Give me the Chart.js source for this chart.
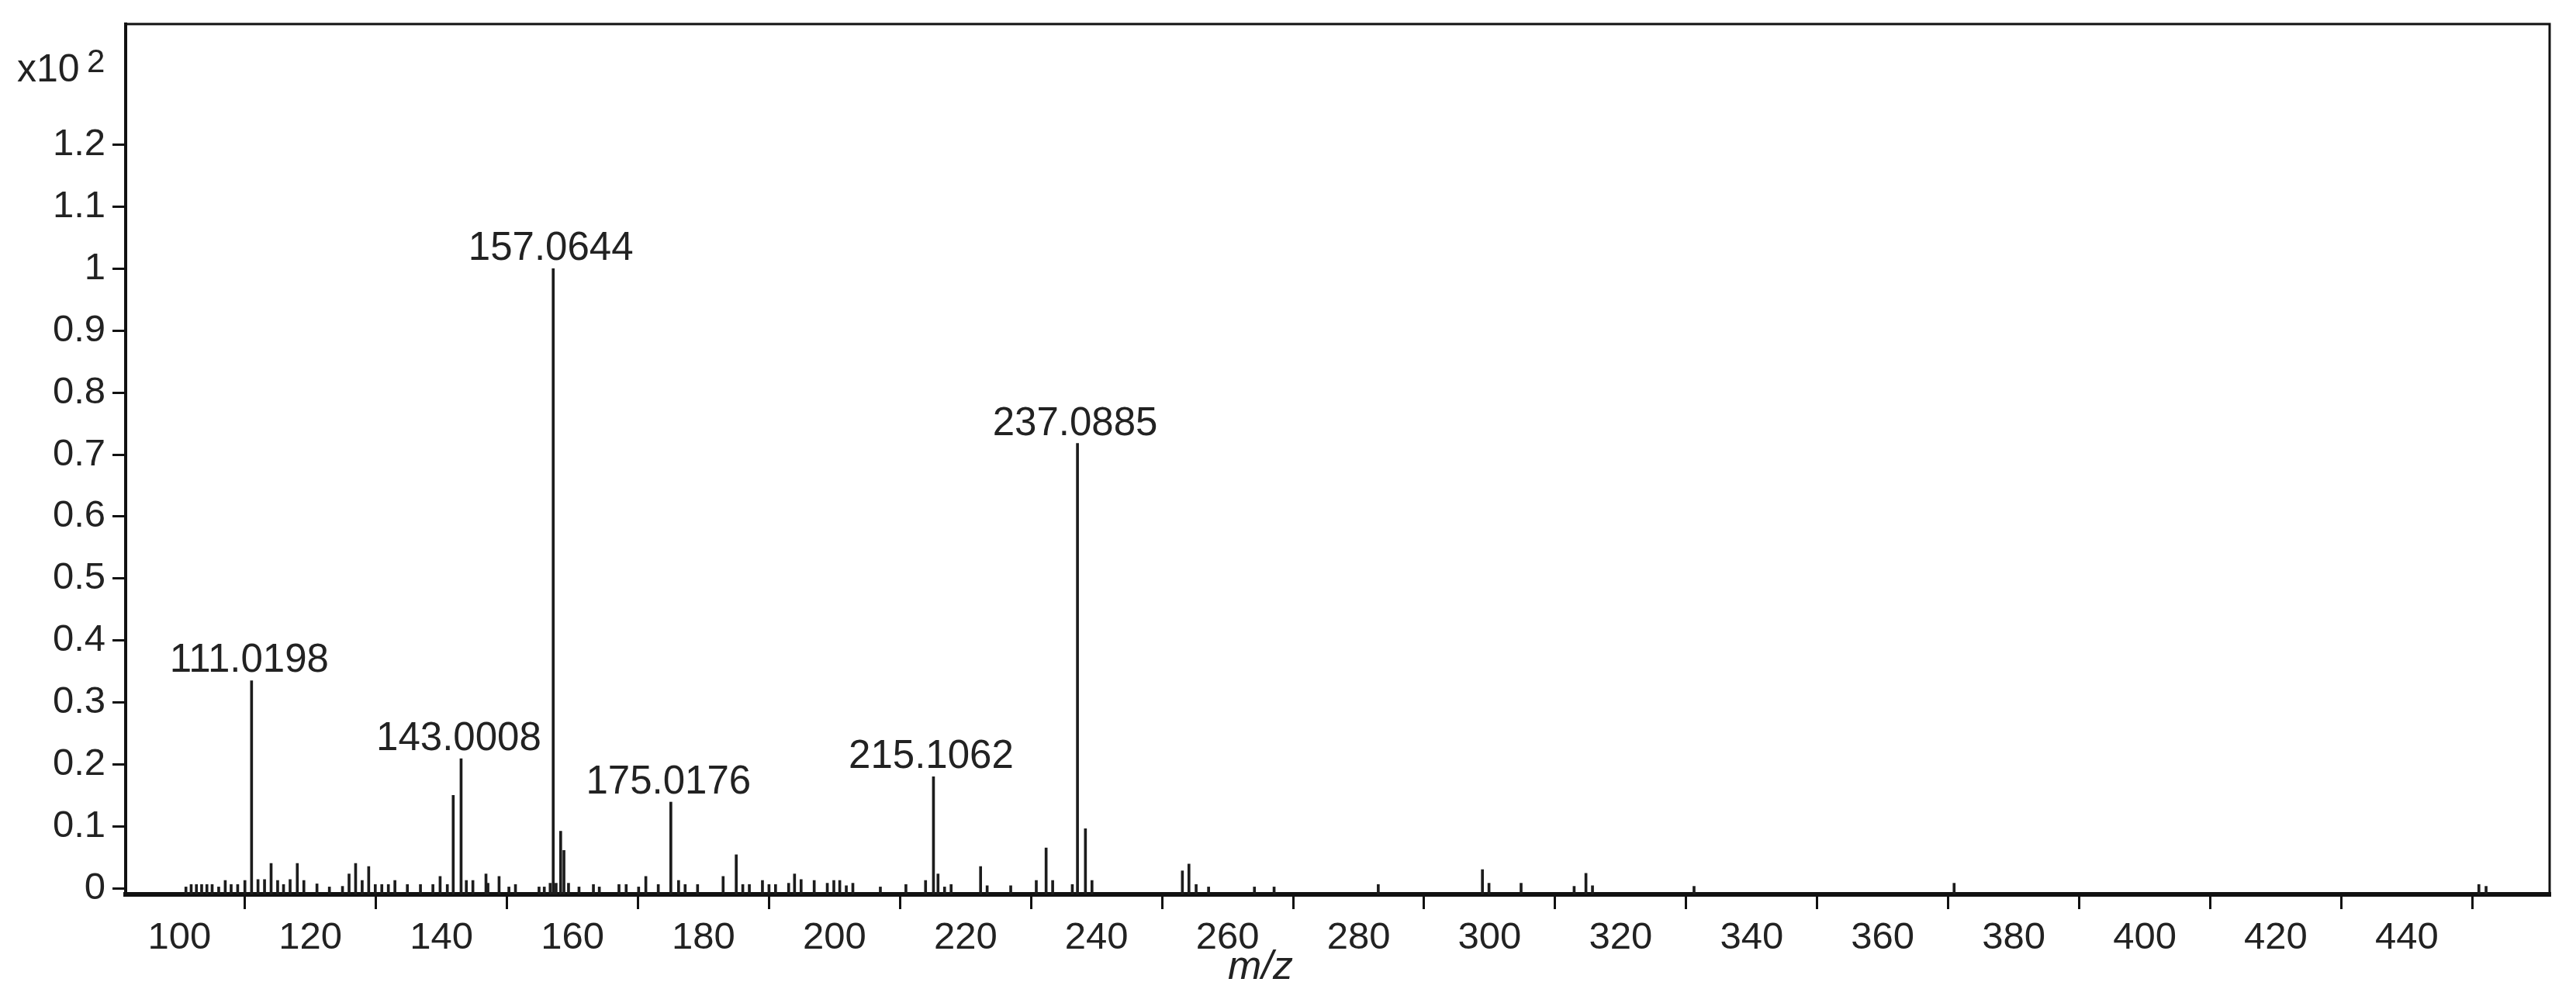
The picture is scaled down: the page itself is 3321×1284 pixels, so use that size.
<!DOCTYPE html>
<html>
<head>
<meta charset="utf-8">
<script src="https://cdn.jsdelivr.net/npm/chart.js@4"></script>
<style>
  body { margin: 0; background: #fff; }
  canvas { display: block; }
</style>
</head>
<body>
<canvas id="spectrum" width="3321" height="1284"></canvas>
<script>
// m/z of each centroid peak and its intensity (units of x10^2)
const mzValues = [
  101.0, 101.8, 102.6, 103.4, 104.2, 105.0, 106.0, 107.0, 107.9, 108.9,
  110.0, 111.0198, 112.0, 113.0, 114.0, 115.0, 115.9, 116.9, 118.0, 119.0,
  121.0, 122.9, 124.9, 125.9, 126.9, 127.9, 128.9, 129.9, 130.9, 131.9,
  132.9, 134.8, 136.8, 138.7, 139.8, 140.9, 141.8, 143.0008, 143.8, 144.8,
  146.8, 147.1, 148.8, 150.3, 151.3, 154.9, 155.7, 156.6, 157.0644, 157.5,
  158.2, 158.7, 159.4, 161.0, 163.2, 164.1, 167.1, 168.2, 170.1, 171.2,
  173.1, 175.0176, 176.2, 177.2, 179.1, 183.0, 185.0, 186.0, 187.0, 189.0,
  190.0, 191.0, 193.0, 193.9, 194.9, 196.9, 198.9, 199.9, 200.8, 201.8,
  202.8, 207.0, 210.9, 213.9, 215.1062, 215.8, 216.8, 217.8, 222.3, 223.3,
  226.9, 230.8, 232.3, 233.3, 236.3, 237.0885, 238.3, 239.3, 253.1, 254.1,
  255.2, 257.1, 264.1, 267.1, 283.0, 298.9, 299.9, 304.8, 312.9, 314.7,
  315.7, 331.2, 370.9, 451.0, 452.1
];
const intensities = [
  0.002, 0.006, 0.006, 0.006, 0.006, 0.006, 0.002, 0.0125, 0.006, 0.006,
  0.0125, 0.335, 0.014, 0.014, 0.040, 0.0125, 0.006, 0.014, 0.040, 0.0125,
  0.007, 0.002, 0.003, 0.023, 0.040, 0.0125, 0.035, 0.006, 0.006, 0.006,
  0.0125, 0.006, 0.006, 0.006, 0.019, 0.006, 0.150, 0.209, 0.0125, 0.0125,
  0.023, 0.008, 0.019, 0.002, 0.006, 0.002, 0.002, 0.008, 1.0, 0.008,
  0.092, 0.061, 0.008, 0.002, 0.006, 0.002, 0.006, 0.006, 0.002, 0.019,
  0.006, 0.139, 0.0125, 0.006, 0.006, 0.019, 0.054, 0.006, 0.006, 0.0125,
  0.006, 0.006, 0.008, 0.023, 0.014, 0.0125, 0.008, 0.0125, 0.0125, 0.004,
  0.008, 0.002, 0.006, 0.0125, 0.180, 0.023, 0.002, 0.006, 0.035, 0.004,
  0.004, 0.0125, 0.065, 0.0125, 0.006, 0.718, 0.096, 0.0125, 0.028, 0.039,
  0.006, 0.002, 0.002, 0.002, 0.006, 0.030, 0.008, 0.008, 0.003, 0.024,
  0.004, 0.003, 0.008, 0.006, 0.003
];
// peaks that carry an m/z annotation
const labeledPeaks = [111.0198, 143.0008, 157.0644, 175.0176, 215.1062, 237.0885];

const xTicks = [100, 120, 140, 160, 180, 200, 220, 240, 260, 280, 300, 320, 340, 360, 380, 400, 420, 440, 460];
const yTicks = [0, 0.1, 0.2, 0.3, 0.4, 0.5, 0.6, 0.7, 0.8, 0.9, 1.0, 1.1, 1.2];
const xMin = 91.8, xMax = 461.8;
const yMin = -0.01, yMax = 1.395;

const FONT = "'Liberation Sans', Arial, sans-serif";
const INK = '#111';

const points = mzValues.map((mz, i) => ({ x: mz, y: intensities[i] }));

// closes the frame (top + right) and writes annotations
const decorations = {
  id: 'decorations',
  afterDatasetsDraw(chart) {
    const { ctx } = chart;
    const meta = chart.getDatasetMeta(0);
    ctx.save();
    ctx.fillStyle = '#222';
    ctx.font = '51px ' + FONT;
    ctx.textAlign = 'center';
    ctx.textBaseline = 'alphabetic';
    labeledPeaks.forEach(mz => {
      const bar = meta.data[mzValues.indexOf(mz)];
      ctx.fillText(mz.toFixed(4), bar.x - 3, bar.y - 11);
    });
    ctx.restore();
  },
  afterDraw(chart) {
    const { ctx, chartArea } = chart;
    ctx.save();
    ctx.strokeStyle = INK;
    ctx.lineWidth = 3;
    ctx.beginPath();
    ctx.moveTo(chartArea.left, chartArea.top);
    ctx.lineTo(chartArea.right, chartArea.top);
    ctx.lineTo(chartArea.right, chartArea.bottom);
    ctx.stroke();

    ctx.fillStyle = '#222';
    ctx.textBaseline = 'alphabetic';
    ctx.textAlign = 'left';
    ctx.font = '50px ' + FONT;
    ctx.fillText('x10', 22, 105);
    ctx.font = '42px ' + FONT;
    ctx.fillText('2', 112, 93);

    ctx.textAlign = 'center';
    ctx.font = 'italic 52px ' + FONT;
    ctx.fillText('m/z', 1625, 1262);
    ctx.restore();
  }
};

new Chart(document.getElementById('spectrum'), {
  type: 'bar',
  data: {
    datasets: [{
      data: points,
      backgroundColor: '#1c1c1c',
      barThickness: 3,
      base: yMin
    }]
  },
  options: {
    responsive: false,
    animation: false,
    layout: { padding: { top: 31, right: 34, left: 0, bottom: 0 } },
    plugins: {
      legend: { display: false },
      tooltip: { enabled: false }
    },
    scales: {
      x: {
        type: 'linear',
        min: xMin,
        max: xMax,
        offset: false,
        afterBuildTicks: scale => { scale.ticks = xTicks.map(v => ({ value: v })); },
        afterFit: scale => {
          scale.height = 131;
          scale.paddingLeft = 0;
          scale.paddingRight = 0;
        },
        ticks: {
          autoSkip: false,
          maxRotation: 0,
          padding: 8,
          color: '#222',
          font: { family: FONT, size: 49 },
          callback: v => (v === 460 ? '' : String(v))
        },
        grid: { drawOnChartArea: false, tickLength: 19, lineWidth: 3, color: INK },
        border: { display: true, width: 6, color: INK }
      },
      y: {
        min: yMin,
        max: yMax,
        afterBuildTicks: scale => { scale.ticks = yTicks.map(v => ({ value: v })); },
        afterFit: scale => {
          scale.width = 162;
          scale.paddingTop = 0;
          scale.paddingBottom = 0;
        },
        ticks: {
          autoSkip: false,
          padding: 9,
          color: '#222',
          font: { family: FONT, size: 49 },
          callback: v => String(Number(v.toFixed(1)))
        },
        grid: { drawOnChartArea: false, tickLength: 17, lineWidth: 3, color: INK },
        border: { display: true, width: 4, color: INK }
      }
    }
  },
  plugins: [decorations]
});
</script>
</body>
</html>
